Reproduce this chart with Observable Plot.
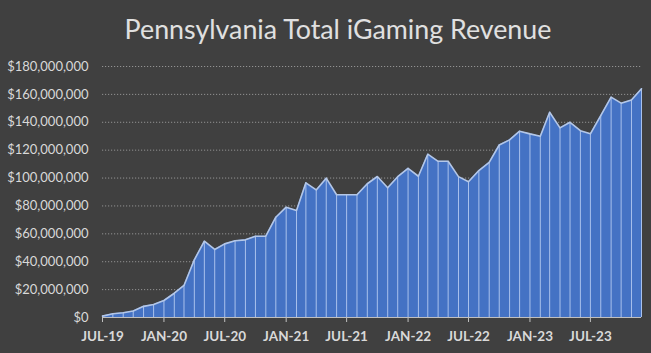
<!DOCTYPE html>
<html>
<head>
<meta charset="utf-8">
<script src="https://cdn.jsdelivr.net/npm/d3@7"></script>
<script src="https://cdn.jsdelivr.net/npm/@observablehq/plot@0.6"></script>
<style>
  html, body { margin: 0; padding: 0; background: #404040; }
  #chart svg { display: block; }
</style>
</head>
<body>
<div id="chart"></div>
<script>
const title = "Pennsylvania Total iGaming Revenue";

// Months July 2019 .. December 2023
const months = [
  "2019-07","2019-08","2019-09","2019-10","2019-11","2019-12",
  "2020-01","2020-02","2020-03","2020-04","2020-05","2020-06",
  "2020-07","2020-08","2020-09","2020-10","2020-11","2020-12",
  "2021-01","2021-02","2021-03","2021-04","2021-05","2021-06",
  "2021-07","2021-08","2021-09","2021-10","2021-11","2021-12",
  "2022-01","2022-02","2022-03","2022-04","2022-05","2022-06",
  "2022-07","2022-08","2022-09","2022-10","2022-11","2022-12",
  "2023-01","2023-02","2023-03","2023-04","2023-05","2023-06",
  "2023-07","2023-08","2023-09","2023-10","2023-11","2023-12"
];

// Monthly revenue (USD)
const revenue = [
  1000000, 2700000, 3400000, 4700000, 8000000, 9300000,
  12200000, 17400000, 23000000, 41400000, 54700000, 48800000,
  52800000, 55000000, 55700000, 58300000, 58300000, 71900000,
  79100000, 76700000, 96600000, 91500000, 99900000, 88000000,
  88000000, 88000000, 95900000, 101100000, 93000000, 101000000,
  107000000, 101300000, 117100000, 112000000, 112000000, 101000000,
  97300000, 105400000, 111300000, 123700000, 127400000, 133600000,
  131700000, 130000000, 147200000, 136000000, 140000000, 134000000,
  131700000, 144800000, 158000000, 153700000, 156000000, 164000000
];

// Axis tick labels
const xTicks = ["2019-07","2020-01","2020-07","2021-01","2021-07","2022-01","2022-07","2023-01","2023-07"];
const yTicks = [0, 20000000, 40000000, 60000000, 80000000, 100000000, 120000000, 140000000, 160000000, 180000000];

const parse = d3.utcParse("%Y-%m");
const data = months.map((m, i) => ({date: parse(m), value: revenue[i]}));
const fmtX = d => d3.utcFormat("%b-%y")(d).toUpperCase();
const fmtY = d => "$" + d3.format(",")(d);

const textColor = "#d9d9d9";
const font = "Lato, 'Open Sans', sans-serif";

const chart = Plot.plot({
  width: 651,
  height: 353,
  marginLeft: 102,
  marginRight: 10,
  marginTop: 66,
  marginBottom: 36,
  style: {background: "#404040", color: textColor, fontFamily: font, fontSize: "13px"},
  x: {type: "utc", domain: [data[0].date, data[data.length - 1].date]},
  y: {domain: [0, 180000000]},
  marks: [
    Plot.gridY(yTicks.filter(d => d > 0), {stroke: "#a6a6a6", strokeOpacity: 0.8, strokeDasharray: "1.2,1.8", strokeWidth: 1}),
    Plot.areaY(data, {x: "date", y: "value", fill: "#4472C4"}),
    Plot.ruleX(data, {x: "date", y1: 0, y2: "value", stroke: "#a9c1ec", strokeWidth: 1}),
    Plot.lineY(data, {x: "date", y: "value", stroke: "#b4c7e7", strokeWidth: 1.6}),
    Plot.ruleY([0], {stroke: "#bfbfbf", strokeWidth: 1}),
    Plot.axisY({ticks: yTicks, tickFormat: fmtY, tickSize: 0, tickPadding: 14, label: null, fontSize: 13, fill: textColor}),
    Plot.axisX({ticks: xTicks.map(parse), tickFormat: fmtX, tickSize: 5, tickPadding: 9, label: null, stroke: "#bfbfbf", fontSize: 13.5, fontWeight: "bold", fill: textColor}),
    Plot.text([title], {frameAnchor: "top", x: null, dx: -34, dy: -36, text: d => d, fontSize: 26.8, fill: "#e0e0e0", fontFamily: font, textAnchor: "middle", lineAnchor: "middle"})
  ]
});

document.getElementById("chart").appendChild(chart);
</script>
</body>
</html>
